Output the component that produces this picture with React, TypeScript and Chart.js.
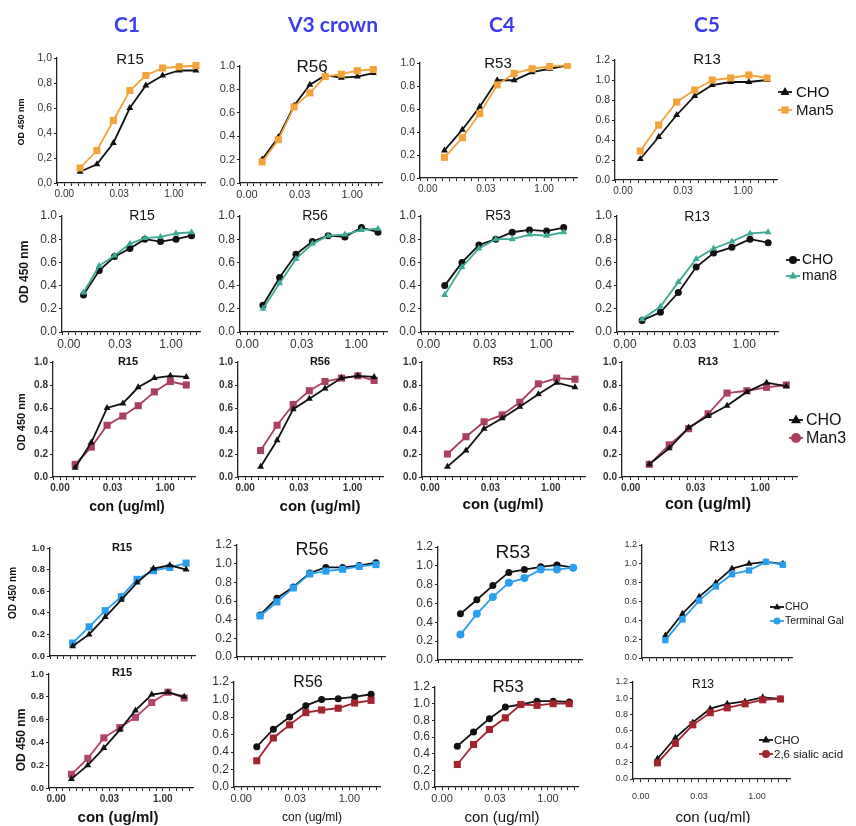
import React, { useEffect, useRef } from 'react';
import { Chart, registerables } from 'chart.js';
Chart.register(...registerables);

// ---------- data ----------
const conc = [0.0027, 0.0078, 0.022, 0.062, 0.17, 0.49, 1.4, 4];
const xTickLabels = ['0.00', '0.03', '1.00'];
const xTickConc = [0.001, 0.0316, 1];
const columnHeaders = ['C1', 'V3 crown', 'C4', 'C5'];
const panelTitles = ['R15', 'R56', 'R53', 'R13'];

// Row 1: CHO vs Man5
const r1_R15_cho = [0.09, 0.15, 0.32, 0.60, 0.78, 0.86, 0.90, 0.90];
const r1_R15_man5 = [0.12, 0.26, 0.50, 0.74, 0.86, 0.92, 0.93, 0.94];
const r1_R56_cho = [0.20, 0.39, 0.66, 0.84, 0.92, 0.90, 0.91, 0.94];
const r1_R56_man5 = [0.18, 0.37, 0.65, 0.77, 0.91, 0.93, 0.96, 0.97];
const r1_R53_cho = [0.24, 0.42, 0.62, 0.85, 0.85, 0.92, 0.95, 0.98];
const r1_R53_man5 = [0.18, 0.35, 0.56, 0.81, 0.91, 0.95, 0.97, 0.98];
const r1_R13_cho = [0.21, 0.43, 0.65, 0.84, 0.95, 0.98, 0.98, 1.00];
const r1_R13_man5 = [0.29, 0.55, 0.78, 0.90, 1.00, 1.02, 1.05, 1.02];

// Row 2: CHO vs man8
const r2_R15_cho = [0.32, 0.53, 0.65, 0.72, 0.80, 0.78, 0.80, 0.83];
const r2_R15_man8 = [0.34, 0.57, 0.66, 0.76, 0.81, 0.82, 0.85, 0.86];
const r2_R56_cho = [0.23, 0.47, 0.67, 0.78, 0.83, 0.82, 0.90, 0.86];
const r2_R56_man8 = [0.20, 0.42, 0.63, 0.76, 0.83, 0.84, 0.88, 0.89];
const r2_R53_cho = [0.40, 0.60, 0.75, 0.80, 0.86, 0.88, 0.87, 0.90];
const r2_R53_man8 = [0.32, 0.56, 0.72, 0.80, 0.80, 0.84, 0.83, 0.86];
const r2_R13_cho = [0.10, 0.17, 0.34, 0.56, 0.68, 0.73, 0.80, 0.77];
const r2_R13_man8 = [0.11, 0.22, 0.43, 0.63, 0.72, 0.78, 0.85, 0.86];

// Row 3: CHO vs Man3
const r3_R15_cho = [0.08, 0.30, 0.60, 0.64, 0.78, 0.86, 0.88, 0.87];
const r3_R15_man3 = [0.11, 0.26, 0.45, 0.53, 0.62, 0.74, 0.83, 0.80];
const r3_R56_cho = [0.09, 0.32, 0.59, 0.68, 0.77, 0.86, 0.88, 0.87];
const r3_R56_man3 = [0.23, 0.45, 0.63, 0.75, 0.83, 0.86, 0.88, 0.84];
const r3_R53_cho = [0.09, 0.23, 0.42, 0.51, 0.61, 0.72, 0.82, 0.78];
const r3_R53_man3 = [0.20, 0.35, 0.48, 0.54, 0.65, 0.81, 0.86, 0.85];
const r3_R13_cho = [0.11, 0.25, 0.43, 0.53, 0.62, 0.74, 0.82, 0.79];
const r3_R13_man3 = [0.11, 0.28, 0.42, 0.55, 0.73, 0.75, 0.78, 0.80];

// Row 4: CHO vs Terminal Gal
const r4_R15_cho = [0.09, 0.20, 0.36, 0.52, 0.68, 0.81, 0.84, 0.80];
const r4_R15_gal = [0.12, 0.27, 0.42, 0.55, 0.71, 0.79, 0.82, 0.86];
const r4_R56_cho = [0.45, 0.63, 0.75, 0.90, 0.96, 0.96, 0.98, 1.01];
const r4_R56_gal = [0.44, 0.59, 0.74, 0.89, 0.92, 0.94, 0.97, 0.99];
const r4_R53_cho = [0.49, 0.64, 0.79, 0.93, 0.96, 0.99, 1.01, 0.98];
const r4_R53_gal = [0.27, 0.49, 0.67, 0.82, 0.87, 0.96, 0.96, 0.98];
const r4_R13_cho = [0.24, 0.47, 0.65, 0.80, 0.95, 1.00, 1.02, 1.00];
const r4_R13_gal = [0.19, 0.41, 0.61, 0.76, 0.89, 0.93, 1.02, 0.99];

// Row 5: CHO vs 2,6 sialic acid
const r5_R15_cho = [0.08, 0.20, 0.35, 0.51, 0.68, 0.82, 0.84, 0.80];
const r5_R15_sia = [0.12, 0.26, 0.44, 0.53, 0.62, 0.75, 0.84, 0.79];
const r5_R56_cho = [0.46, 0.66, 0.80, 0.93, 1.00, 1.01, 1.03, 1.06];
const r5_R56_sia = [0.30, 0.56, 0.71, 0.85, 0.88, 0.90, 0.96, 0.99];
const r5_R53_cho = [0.49, 0.66, 0.82, 0.96, 0.99, 1.03, 1.03, 1.02];
const r5_R53_sia = [0.27, 0.51, 0.69, 0.83, 0.99, 0.98, 1.00, 1.00];
const r5_R13_cho = [0.25, 0.51, 0.70, 0.87, 0.93, 0.96, 1.01, 0.99];
const r5_R13_sia = [0.20, 0.44, 0.67, 0.82, 0.88, 0.93, 0.98, 0.99];

// ---------- styles ----------
const FONT = '"Liberation Sans", Arial, Helvetica, sans-serif';
const HEAD_FONT = 'Lato, "Open Sans", sans-serif';
const BLACK = '#111111';
const ORANGE = '#F2A43A';
const TEAL = '#3DAA94';
const MAN3 = '#A8405E';
const BLUE = '#2B9FEF';
const SIA = '#A3232F';
const SIA_PINK = '#B2426E';
const HEAD_BLUE = '#3C3CF0';
const TICK_COLOR = '#333333';

const X_MIN = -3.2;
const X_MAX = 0.85;
const X_STEP = 0.1875;
const xMinorTicks: number[] = [];
for (let k = Math.ceil((X_MIN + 3) / X_STEP); k <= Math.floor((X_MAX + 3) / X_STEP); k++) {
  xMinorTicks.push(-3 + k * X_STEP);
}

type Txt = { t: string; x: number; y: number; size: number; weight?: string; color?: string; rot?: number; family?: string };
type Ser = { label: string; data: number[]; color: string; style: string; r: number; ls?: string; top?: boolean };
type Leg = { x: number; tx: number; ys: number[]; size: number; mr: number };
type Panel = {
  id: string; L: number; R: number; T: number; B: number; ymax: number; comma?: boolean;
  yFont: [number, string]; xFont: [number, string] | null; xPad?: number;
  texts: Txt[]; series: Ser[]; legend?: Leg; padT?: number; padR?: number;
};

const ROT = -Math.PI / 2;
const head = (i: number, x: number): Txt => ({ t: columnHeaders[i], x, y: 25, size: 21, weight: 'bold', color: HEAD_BLUE, family: HEAD_FONT });
const ttl = (i: number, x: number, y: number, size: number, weight = 'normal'): Txt => ({ t: panelTitles[i], x, y, size, weight });
const ytl = (x: number, y: number, size: number): Txt => ({ t: 'OD 450 nm', x, y, size, weight: 'bold', rot: ROT });
const xtl = (x: number, y: number, size: number, weight = 'bold'): Txt => ({ t: 'con (ug/ml)', x, y, size, weight });

const panels: Panel[] = [
  // ---- Row 1 ----
  { id: 'r1c1', L: 57, R: 205, T: 58, B: 183, ymax: 1, comma: true, yFont: [10.5, 'normal'], xFont: [10, 'normal'], padT: 58,
    texts: [head(0, 127), ttl(0, 130, 60, 15), ytl(22, 122, 9)],
    series: [{ label: 'CHO', data: r1_R15_cho, color: BLACK, style: 'triangle', r: 4 }, { label: 'Man5', data: r1_R15_man5, color: ORANGE, style: 'rect', r: 5, top: true }] },
  { id: 'r1c2', L: 240, R: 382, T: 66, B: 183, ymax: 1, yFont: [11, 'normal'], xFont: [11, 'normal'], padT: 64,
    texts: [head(1, 333), ttl(1, 312, 67, 17)],
    series: [{ label: 'CHO', data: r1_R56_cho, color: BLACK, style: 'triangle', r: 4 }, { label: 'Man5', data: r1_R56_man5, color: ORANGE, style: 'rect', r: 5, top: true }] },
  { id: 'r1c3', L: 420, R: 577, T: 63, B: 178, ymax: 1, yFont: [10.5, 'normal'], xFont: [10, 'normal'], padT: 62,
    texts: [head(2, 502), ttl(2, 498, 64, 15)],
    series: [{ label: 'CHO', data: r1_R53_cho, color: BLACK, style: 'triangle', r: 4 }, { label: 'Man5', data: r1_R53_man5, color: ORANGE, style: 'rect', r: 5, top: true }] },
  { id: 'r1c4', L: 615, R: 777, T: 60, B: 180, ymax: 1.2, yFont: [10.5, 'normal'], xFont: [10, 'normal'], padT: 60, padR: 855 - 777,
    texts: [head(3, 707), ttl(3, 707, 60, 15)],
    legend: { x: 785, tx: 796, ys: [92, 110], size: 15, mr: 4.5 },
    series: [{ label: 'CHO', data: r1_R13_cho, color: BLACK, style: 'triangle', r: 4 }, { label: 'Man5', data: r1_R13_man5, color: ORANGE, style: 'rect', r: 5, top: true }] },

  // ---- Row 2 ----
  { id: 'r2c1', L: 62, R: 200, T: 216, B: 332, ymax: 1, yFont: [12, 'normal'], xFont: [12, 'normal'],
    texts: [ttl(0, 142, 216, 14), ytl(25, 272, 12)],
    series: [{ label: 'CHO', data: r2_R15_cho, color: BLACK, style: 'circle', r: 3.5 }, { label: 'man8', data: r2_R15_man8, color: TEAL, style: 'triangle', r: 4, top: true }] },
  { id: 'r2c2', L: 240, R: 387, T: 216, B: 332, ymax: 1, yFont: [12, 'normal'], xFont: [12, 'normal'],
    texts: [ttl(1, 315, 216, 14)],
    series: [{ label: 'CHO', data: r2_R56_cho, color: BLACK, style: 'circle', r: 3.5 }, { label: 'man8', data: r2_R56_man8, color: TEAL, style: 'triangle', r: 4, top: true }] },
  { id: 'r2c3', L: 421, R: 573, T: 216, B: 332, ymax: 1, yFont: [12, 'normal'], xFont: [12, 'normal'],
    texts: [ttl(2, 498, 216, 14)],
    series: [{ label: 'CHO', data: r2_R53_cho, color: BLACK, style: 'circle', r: 3.5 }, { label: 'man8', data: r2_R53_man8, color: TEAL, style: 'triangle', r: 4, top: true }] },
  { id: 'r2c4', L: 617, R: 778, T: 216, B: 332, ymax: 1, yFont: [12, 'normal'], xFont: [12, 'normal'], padR: 855 - 778,
    texts: [ttl(3, 697, 217, 14)],
    legend: { x: 793, tx: 802, ys: [260, 276], size: 14, mr: 4 },
    series: [{ label: 'CHO', data: r2_R13_cho, color: BLACK, style: 'circle', r: 3.5 }, { label: 'man8', data: r2_R13_man8, color: TEAL, style: 'triangle', r: 4, top: true }] },

  // ---- Row 3 ----
  { id: 'r3c1', L: 53, R: 195, T: 362, B: 477, ymax: 1, yFont: [10, 'bold'], xFont: [10, 'bold'],
    texts: [ttl(0, 128, 362, 11, 'bold'), ytl(22, 422, 11), xtl(127, 507, 14)],
    series: [{ label: 'CHO', data: r3_R15_cho, color: BLACK, style: 'triangle', r: 4, top: true }, { label: 'Man3', data: r3_R15_man3, color: MAN3, style: 'rect', r: 5 }] },
  { id: 'r3c2', L: 238, R: 383, T: 362, B: 477, ymax: 1, yFont: [10, 'bold'], xFont: [10, 'bold'],
    texts: [ttl(1, 320, 362, 11, 'bold'), xtl(320, 507, 15)],
    series: [{ label: 'CHO', data: r3_R56_cho, color: BLACK, style: 'triangle', r: 4, top: true }, { label: 'Man3', data: r3_R56_man3, color: MAN3, style: 'rect', r: 5 }] },
  { id: 'r3c3', L: 422, R: 585, T: 362, B: 477, ymax: 1, yFont: [10, 'bold'], xFont: [10, 'bold'],
    texts: [ttl(2, 503, 362, 11, 'bold'), xtl(503, 505, 15)],
    series: [{ label: 'CHO', data: r3_R53_cho, color: BLACK, style: 'triangle', r: 4, top: true }, { label: 'Man3', data: r3_R53_man3, color: MAN3, style: 'rect', r: 5 }] },
  { id: 'r3c4', L: 622, R: 797, T: 362, B: 477, ymax: 1, yFont: [10, 'bold'], xFont: [10, 'bold'], padR: 855 - 797,
    texts: [ttl(3, 708, 362, 11, 'bold'), xtl(708, 505, 16)],
    legend: { x: 796, tx: 806, ys: [420, 438], size: 16, mr: 5 },
    series: [{ label: 'CHO', data: r3_R13_cho, color: BLACK, style: 'triangle', r: 4, top: true }, { label: 'Man3', data: r3_R13_man3, color: MAN3, style: 'rect', r: 5, ls: 'circle' }] },

  // ---- Row 4 ----
  { id: 'r4c1', L: 50, R: 195, T: 548, B: 656, ymax: 1, yFont: [9.5, 'bold'], xFont: null,
    texts: [ttl(0, 122, 548, 11, 'bold'), ytl(13, 593, 10)],
    series: [{ label: 'CHO', data: r4_R15_cho, color: BLACK, style: 'triangle', r: 4, top: true }, { label: 'Terminal Gal', data: r4_R15_gal, color: BLUE, style: 'rect', r: 5 }] },
  { id: 'r4c2', L: 237, R: 385, T: 545, B: 657, ymax: 1.2, yFont: [12, 'normal'], xFont: null,
    texts: [ttl(1, 312, 550, 18)],
    series: [{ label: 'CHO', data: r4_R56_cho, color: BLACK, style: 'circle', r: 3.5 }, { label: 'Terminal Gal', data: r4_R56_gal, color: BLUE, style: 'rect', r: 5, top: true }] },
  { id: 'r4c3', L: 438, R: 582, T: 547, B: 660, ymax: 1.2, yFont: [12, 'normal'], xFont: null,
    texts: [ttl(2, 513, 553, 19)],
    series: [{ label: 'CHO', data: r4_R53_cho, color: BLACK, style: 'circle', r: 3.5 }, { label: 'Terminal Gal', data: r4_R53_gal, color: BLUE, style: 'circle', r: 4, top: true }] },
  { id: 'r4c4', L: 642, R: 792, T: 545, B: 658, ymax: 1.2, yFont: [9, 'normal'], xFont: null, padR: 855 - 792,
    texts: [ttl(3, 722, 547, 14)],
    legend: { x: 777, tx: 785, ys: [607, 621], size: 10.5, mr: 3.5 },
    series: [{ label: 'CHO', data: r4_R13_cho, color: BLACK, style: 'triangle', r: 4 }, { label: 'Terminal Gal', data: r4_R13_gal, color: BLUE, style: 'rect', r: 4.5, ls: 'circle', top: true }] },

  // ---- Row 5 ----
  { id: 'r5c1', L: 49, R: 193, T: 674, B: 788, ymax: 1, yFont: [9.5, 'bold'], xFont: [10, 'bold'],
    texts: [ttl(0, 122, 673, 11, 'bold'), ytl(22, 740, 12), xtl(118, 818, 15)],
    series: [{ label: 'CHO', data: r5_R15_cho, color: BLACK, style: 'triangle', r: 4, top: true }, { label: '2,6 sialic acid', data: r5_R15_sia, color: SIA_PINK, style: 'rect', r: 5 }] },
  { id: 'r5c2', L: 234, R: 380, T: 682, B: 787, ymax: 1.2, yFont: [12, 'normal'], xFont: [11, 'normal'],
    texts: [ttl(1, 308, 683, 16), xtl(312, 818, 12, 'normal')],
    series: [{ label: 'CHO', data: r5_R56_cho, color: BLACK, style: 'circle', r: 3.5 }, { label: '2,6 sialic acid', data: r5_R56_sia, color: SIA, style: 'rect', r: 5, top: true }] },
  { id: 'r5c3', L: 435, R: 578, T: 687, B: 787, ymax: 1.2, yFont: [12, 'normal'], xFont: [11, 'normal'],
    texts: [ttl(2, 508, 687, 17), xtl(502, 818, 15, 'normal')],
    series: [{ label: 'CHO', data: r5_R53_cho, color: BLACK, style: 'circle', r: 3.5 }, { label: '2,6 sialic acid', data: r5_R53_sia, color: SIA, style: 'rect', r: 5, top: true }] },
  { id: 'r5c4', L: 633, R: 790, T: 682, B: 779, ymax: 1.2, yFont: [9, 'normal'], xFont: [9, 'normal'], xPad: 9, padR: 855 - 790,
    texts: [ttl(3, 703, 685, 12), xtl(713, 818, 15, 'normal')],
    legend: { x: 766, tx: 774, ys: [740, 754], size: 11.5, mr: 4 },
    series: [{ label: 'CHO', data: r5_R13_cho, color: BLACK, style: 'triangle', r: 4 }, { label: '2,6 sialic acid', data: r5_R13_sia, color: SIA, style: 'rect', r: 5, ls: 'circle', top: true }] },
];

function drawMarker(ctx: CanvasRenderingContext2D, style: string, x: number, y: number, r: number, color: string) {
  ctx.fillStyle = color;
  ctx.beginPath();
  if (style === 'rect') {
    const s = r * 0.8;
    ctx.rect(x - s, y - s, 2 * s, 2 * s);
  } else if (style === 'triangle') {
    ctx.moveTo(x, y - r * 1.1);
    ctx.lineTo(x + r, y + r * 0.65);
    ctx.lineTo(x - r, y + r * 0.65);
    ctx.closePath();
  } else {
    ctx.arc(x, y, r, 0, Math.PI * 2);
  }
  ctx.fill();
}

function MiniChart({ p }: { p: Panel }) {
  const ref = useRef<HTMLCanvasElement | null>(null);
  const padL = 48;
  const padT = p.padT ?? 16;
  const padR = p.padR ?? 6;
  const padB = Math.min(44, 825 - p.B);
  const left = p.L - padL;
  const top = p.T - padT;
  const w = p.R - p.L + padL + padR;
  const h = p.B - p.T + padT + padB;

  useEffect(() => {
    if (!ref.current) return;
    const textPlugin = {
      id: 'pageTexts' + p.id,
      afterDraw(chart: any) {
        const ctx: CanvasRenderingContext2D = chart.ctx;
        p.texts.forEach((it) => {
          ctx.save();
          ctx.font = `${it.weight || 'normal'} ${it.size}px ${it.family || FONT}`;
          ctx.fillStyle = it.color || BLACK;
          ctx.textAlign = 'center';
          ctx.textBaseline = 'middle';
          ctx.translate(it.x - left, it.y - top);
          if (it.rot) ctx.rotate(it.rot);
          ctx.fillText(it.t, 0, 0);
          ctx.restore();
        });
        if (p.legend) {
          const lg = p.legend;
          p.series.forEach((s, i) => {
            const y = lg.ys[i] - top;
            const x = lg.x - left;
            ctx.save();
            ctx.strokeStyle = s.color;
            ctx.lineWidth = 1.8;
            ctx.beginPath();
            ctx.moveTo(x - 7, y);
            ctx.lineTo(x + 7, y);
            ctx.stroke();
            drawMarker(ctx, s.ls || s.style, x, y, lg.mr, s.color);
            ctx.font = `normal ${lg.size}px ${FONT}`;
            ctx.fillStyle = BLACK;
            ctx.textAlign = 'left';
            ctx.textBaseline = 'middle';
            ctx.fillText(s.label, lg.tx - left, y + 0.5);
            ctx.restore();
          });
        }
      },
    };

    const chart = new Chart(ref.current, {
      type: 'line',
      data: {
        datasets: p.series.map((s) => ({
          label: s.label,
          data: conc.map((c, i) => ({ x: Math.log10(c), y: s.data[i] })),
          borderColor: s.color,
          backgroundColor: s.color,
          pointBackgroundColor: s.color,
          pointBorderColor: s.color,
          pointBorderWidth: 0,
          pointStyle: s.style,
          pointRadius: s.r,
          borderWidth: 1.8,
          tension: 0,
          order: s.top ? 0 : 1,
        })),
      },
      options: {
        responsive: false,
        animation: false,
        events: [],
        layout: { padding: { top: padT, right: padR, left: 0, bottom: 0 } },
        plugins: { legend: { display: false }, tooltip: { enabled: false }, title: { display: false } },
        scales: {
          x: {
            type: 'linear',
            min: X_MIN,
            max: X_MAX,
            afterBuildTicks: (scale: any) => {
              scale.ticks = xMinorTicks.map((v) => ({ value: v }));
            },
            afterFit: (scale: any) => {
              scale.height = padB;
            },
            ticks: {
              autoSkip: false,
              maxRotation: 0,
              minRotation: 0,
              padding: p.xPad ?? 2,
              color: TICK_COLOR,
              font: { family: FONT, size: p.xFont ? p.xFont[0] : 10, weight: p.xFont ? p.xFont[1] : 'normal' },
              callback: (v: any) => {
                if (!p.xFont) return '';
                const i = xTickConc.findIndex((c) => Math.abs(Math.log10(c) - Number(v)) < 0.01);
                return i >= 0 ? xTickLabels[i] : '';
              },
            },
            grid: { display: true, drawOnChartArea: false, drawTicks: true, tickLength: 3, color: '#222', lineWidth: 1 },
            border: { display: true, color: '#222', width: 1.3 },
          },
          y: {
            type: 'linear',
            min: 0,
            max: p.ymax,
            afterFit: (scale: any) => {
              scale.width = padL;
            },
            ticks: {
              stepSize: 0.2,
              autoSkip: false,
              padding: 2,
              color: TICK_COLOR,
              font: { family: FONT, size: p.yFont[0], weight: p.yFont[1] },
              callback: (v: any) => {
                const s = Number(v).toFixed(1);
                return p.comma ? s.replace('.', ',') : s;
              },
            },
            grid: { display: true, drawOnChartArea: false, drawTicks: true, tickLength: 3, color: '#222', lineWidth: 1 },
            border: { display: true, color: '#222', width: 1.3 },
          },
        },
      },
      plugins: [textPlugin],
    } as any);
    return () => chart.destroy();
  }, []);

  return (
    <canvas
      ref={ref}
      width={w}
      height={h}
      style={{ position: 'absolute', left, top, width: w, height: h }}
    />
  );
}

export default function App() {
  return (
    <div style={{ position: 'absolute', left: 0, top: 0, width: 856, height: 826, overflow: 'hidden', background: '#ffffff' }}>
      {panels.map((p) => (
        <MiniChart key={p.id} p={p} />
      ))}
    </div>
  );
}
